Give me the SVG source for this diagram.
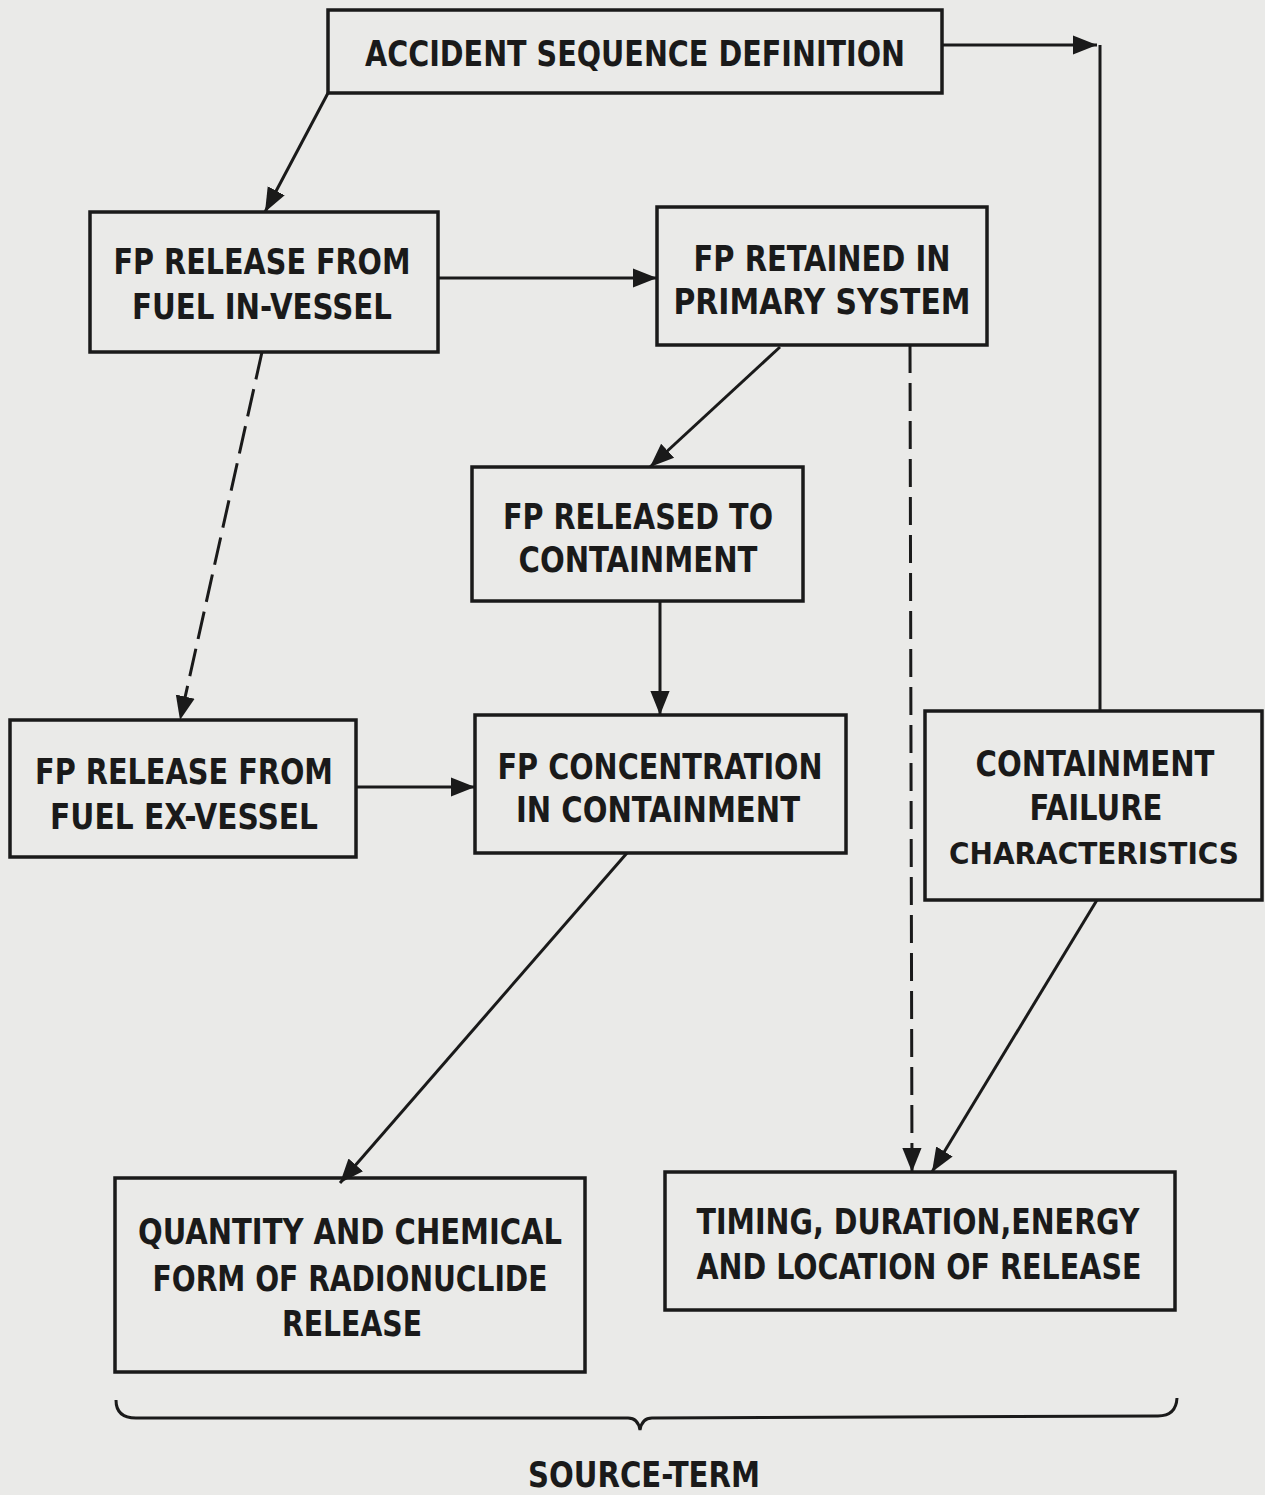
<svg xmlns="http://www.w3.org/2000/svg" width="1265" height="1495" viewBox="0 0 1265 1495">
<style>
.box{fill:none;stroke:#1a1a1a;stroke-width:3.5}
.t{font-family:"DejaVu Sans Condensed","DejaVu Sans",sans-serif;font-weight:bold;font-size:36px;fill:#1a1a1a;text-anchor:middle}
.c{fill:none;stroke:#1a1a1a;stroke-width:3}
.d{stroke-dasharray:28 10}
</style>
<defs>
<marker id="ah" viewBox="0 0 10 10" refX="10" refY="5" markerWidth="8" markerHeight="8" markerUnits="strokeWidth" orient="auto">
<path d="M0,1 L10,5 L0,9 Z" fill="#1a1a1a"/>
</marker>
</defs>
<rect width="1265" height="1495" fill="#eaeae8"/>
<g id="connectors">
<line class="c" x1="328" y1="93" x2="265" y2="212" marker-end="url(#ah)"/>
<line class="c" x1="438" y1="278" x2="657" y2="278" marker-end="url(#ah)"/>
<line class="c d" x1="262" y1="352" x2="180" y2="720" marker-end="url(#ah)"/>
<line class="c" x1="780" y1="347" x2="650" y2="467" marker-end="url(#ah)"/>
<line class="c" x1="660" y1="601" x2="660" y2="715" marker-end="url(#ah)"/>
<line class="c" x1="356" y1="787" x2="475" y2="787" marker-end="url(#ah)"/>
<line class="c d" x1="910" y1="345" x2="912" y2="1172" marker-end="url(#ah)"/>
<line class="c" x1="627" y1="853" x2="340" y2="1183" marker-end="url(#ah)"/>
<line class="c" x1="1097" y1="900" x2="932" y2="1172" marker-end="url(#ah)"/>
<line class="c" x1="942" y1="45" x2="1097" y2="45" marker-end="url(#ah)"/>
<line class="c" x1="1100" y1="45" x2="1100" y2="711"/>
</g>
<g id="n-accident">
<rect class="box" x="328" y="10" width="614" height="83"/>
<text class="t" x="635" y="66" textLength="540" lengthAdjust="spacingAndGlyphs">ACCIDENT SEQUENCE DEFINITION</text>
</g>
<g id="n-invessel">
<rect class="box" x="90" y="212" width="348" height="140"/>
<text class="t" x="262" y="274" textLength="297" lengthAdjust="spacingAndGlyphs">FP RELEASE FROM</text>
<text class="t" x="262" y="319" textLength="260" lengthAdjust="spacingAndGlyphs">FUEL IN-VESSEL</text>
</g>
<g id="n-retained">
<rect class="box" x="657" y="207" width="330" height="138"/>
<text class="t" x="822" y="271" textLength="257" lengthAdjust="spacingAndGlyphs">FP RETAINED IN</text>
<text class="t" x="822" y="314" textLength="297" lengthAdjust="spacingAndGlyphs">PRIMARY SYSTEM</text>
</g>
<g id="n-released">
<rect class="box" x="472" y="467" width="331" height="134"/>
<text class="t" x="638" y="529" textLength="270" lengthAdjust="spacingAndGlyphs">FP RELEASED TO</text>
<text class="t" x="638" y="572" textLength="239" lengthAdjust="spacingAndGlyphs">CONTAINMENT</text>
</g>
<g id="n-exvessel">
<rect class="box" x="10" y="720" width="346" height="137"/>
<text class="t" x="184" y="784" textLength="298" lengthAdjust="spacingAndGlyphs">FP RELEASE FROM</text>
<text class="t" x="184" y="829" textLength="268" lengthAdjust="spacingAndGlyphs">FUEL EX-VESSEL</text>
</g>
<g id="n-concentration">
<rect class="box" x="475" y="715" width="371" height="138"/>
<text class="t" x="660" y="779" textLength="325" lengthAdjust="spacingAndGlyphs">FP CONCENTRATION</text>
<text class="t" x="658" y="822" textLength="284" lengthAdjust="spacingAndGlyphs">IN CONTAINMENT</text>
</g>
<g id="n-failure">
<rect class="box" x="925" y="711" width="337" height="189"/>
<text class="t" x="1095" y="776" textLength="239" lengthAdjust="spacingAndGlyphs">CONTAINMENT</text>
<text class="t" x="1096" y="820" textLength="133" lengthAdjust="spacingAndGlyphs">FAILURE</text>
<text class="t" x="1094" y="864" style="font-size:31px" textLength="290" lengthAdjust="spacingAndGlyphs">CHARACTERISTICS</text>
</g>
<g id="n-quantity">
<rect class="box" x="115" y="1178" width="470" height="194"/>
<text class="t" x="350" y="1244" textLength="424" lengthAdjust="spacingAndGlyphs">QUANTITY AND CHEMICAL</text>
<text class="t" x="350" y="1291" textLength="395" lengthAdjust="spacingAndGlyphs">FORM OF RADIONUCLIDE</text>
<text class="t" x="352" y="1336" textLength="140" lengthAdjust="spacingAndGlyphs">RELEASE</text>
</g>
<g id="n-timing">
<rect class="box" x="665" y="1172" width="510" height="138"/>
<text class="t" x="918" y="1234" textLength="443" lengthAdjust="spacingAndGlyphs">TIMING, DURATION,ENERGY</text>
<text class="t" x="919" y="1279" textLength="445" lengthAdjust="spacingAndGlyphs">AND LOCATION OF RELEASE</text>
</g>
<g id="source-term">
<path class="c" d="M116,1400 Q116,1418 136,1418 L628,1418 Q638,1418 640,1430 Q642,1418 652,1418 L1158,1416 Q1176,1416 1177,1398"/>
<text class="t" x="644" y="1487" textLength="232" lengthAdjust="spacingAndGlyphs">SOURCE-TERM</text>
</g>
</svg>
